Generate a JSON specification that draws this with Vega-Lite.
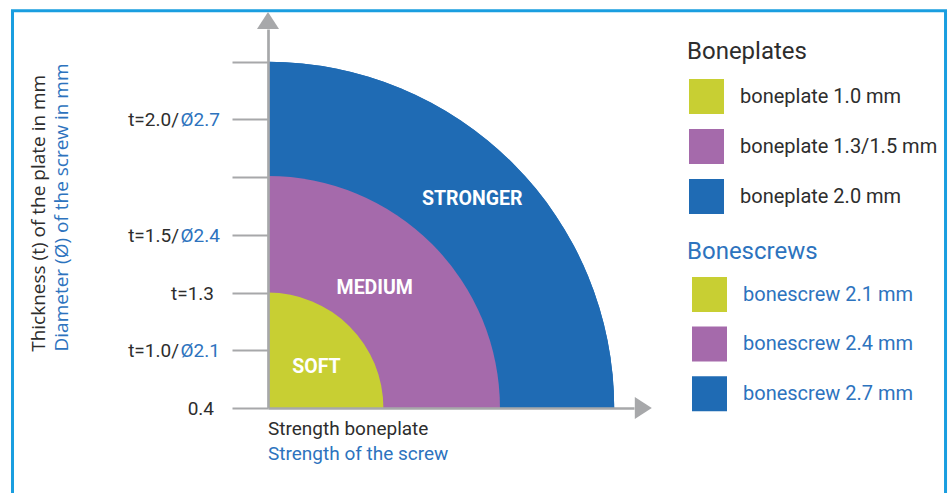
{
  "$schema": "https://vega.github.io/schema/vega-lite/v6.json",
  "width": 366,
  "height": 379,
  "autosize": {"type": "none"},
  "padding": {"left": 268, "top": 29, "right": 315, "bottom": 85},
  "background": "white",
  "config": {"view": {"stroke": null}, "font": "Roboto"},
  "datasets": {
    "zones": [
      {"zone": "STRONGER", "r": 6, "plate": "boneplate 2.0 mm", "screw": "bonescrew 2.7 mm", "lx": 3.54, "ly": 3.65},
      {"zone": "MEDIUM", "r": 4.02, "plate": "boneplate 1.3/1.5 mm", "screw": "bonescrew 2.4 mm", "lx": 1.85, "ly": 2.11},
      {"zone": "SOFT", "r": 2, "plate": "boneplate 1.0 mm", "screw": "bonescrew 2.1 mm", "lx": 0.84, "ly": 0.74}
    ],
    "ticks": [
      {"v": 0, "t": "0.4", "d": ""},
      {"v": 1, "t": "t=1.0/", "d": "Ø2.1"},
      {"v": 2, "t": "t=1.3", "d": ""},
      {"v": 3, "t": "t=1.5/", "d": "Ø2.4"},
      {"v": 5, "t": "t=2.0/", "d": "Ø2.7"}
    ],
    "one": [{}]
  },
  "layer": [
    {
      "data": {"name": "one"},
      "mark": {"type": "rect", "fill": "transparent", "stroke": "#1a9ee0", "strokeWidth": 3},
      "encoding": {
        "x": {"datum": -4.428, "type": "quantitative", "title": null},
        "x2": {"datum": 11.742},
        "y": {"datum": 6.886, "type": "quantitative", "title": null},
        "y2": {"datum": -1.6}
      }
    },
    {
      "data": {"name": "zones"},
      "mark": {"type": "arc", "theta": 0, "theta2": 1.5708},
      "encoding": {
        "x": {"datum": 0, "type": "quantitative", "title": null,
          "scale": {"domain": [0, 6.343], "nice": false, "zero": false},
          "axis": {"labels": false, "ticks": false, "grid": false, "title": null, "domainColor": "#a7a8aa", "domainWidth": 2.7, "zindex": 1}},
        "y": {"datum": 0, "type": "quantitative", "title": null,
          "scale": {"domain": [0, 6.568], "nice": false, "zero": false},
          "axis": {"values": [0, 1, 2, 3, 4, 5, 6], "labels": false, "ticks": true, "tickSize": 36, "tickColor": "#a7a8aa", "tickWidth": 2, "grid": false, "title": null, "domainColor": "#a7a8aa", "domainWidth": 2.7, "zindex": 1}},
        "radius": {"field": "r", "type": "quantitative", "stack": null, "scale": {"type": "linear", "domain": [0, 6], "range": [0, 346.2], "zero": true, "nice": false}},
        "fill": {"field": "screw", "type": "nominal",
          "scale": {"domain": ["bonescrew 2.1 mm", "bonescrew 2.4 mm", "bonescrew 2.7 mm"], "range": ["#c8cf33", "#a56aab", "#1f6bb4"]},
          "legend": {"title": "Bonescrews", "orient": "none", "legendX": 419, "legendY": 211, "padding": 0,
            "symbolType": "square", "symbolSize": 1225, "symbolStrokeWidth": 0, "symbolOpacity": 1, "symbolOffset": 5,
            "labelOffset": 16, "labelFontSize": 20, "labelFont": "Roboto", "labelColor": "#2d73be", "labelLimit": 300,
            "titleFontSize": 24, "titleFont": "Roboto", "titleFontWeight": "normal", "titleColor": "#2d73be",
            "titlePadding": 13, "rowPadding": 14.6}}
      }
    },
    {
      "data": {"name": "zones"},
      "mark": {"type": "arc", "theta": 0, "theta2": 1.5708},
      "encoding": {
        "x": {"datum": 0, "type": "quantitative", "title": null},
        "y": {"datum": 0, "type": "quantitative", "title": null},
        "radius": {"field": "r", "type": "quantitative", "stack": null, "scale": {"type": "linear", "domain": [0, 6], "range": [0, 346.2], "zero": true, "nice": false}},
        "fill": {"field": "plate", "type": "nominal",
          "scale": {"domain": ["boneplate 1.0 mm", "boneplate 1.3/1.5 mm", "boneplate 2.0 mm"], "range": ["#c8cf33", "#a56aab", "#1f6bb4"]},
          "legend": {"title": "Boneplates", "orient": "none", "legendX": 419, "legendY": 11, "padding": 0,
            "symbolType": "square", "symbolSize": 1225, "symbolStrokeWidth": 0, "symbolOpacity": 1, "symbolOffset": 2,
            "labelOffset": 16, "labelFontSize": 20, "labelFont": "Roboto", "labelColor": "#2d2d2d", "labelLimit": 300,
            "titleFontSize": 24, "titleFont": "Roboto", "titleFontWeight": "normal", "titleColor": "#2d2d2d",
            "titlePadding": 15, "rowPadding": 15}}
      }
    },
    {
      "data": {"name": "zones"},
      "mark": {"type": "text", "fill": "white", "font": "Roboto", "fontWeight": "bold", "fontSize": 19.5, "align": "center", "baseline": "middle", "dy": 2},
      "encoding": {
        "x": {"field": "lx", "type": "quantitative", "title": null},
        "y": {"field": "ly", "type": "quantitative", "title": null},
        "text": {"field": "zone"}
      }
    },
    {
      "data": {"name": "ticks"},
      "transform": [{"filter": "datum.d != ''"}],
      "mark": {"type": "text", "fill": "#2d2d2d", "font": "Roboto", "fontSize": 19, "align": "right", "baseline": "middle", "dx": -89, "dy": 1},
      "encoding": {
        "x": {"datum": 0, "type": "quantitative", "title": null},
        "y": {"field": "v", "type": "quantitative", "title": null},
        "text": {"field": "t"}
      }
    },
    {
      "data": {"name": "ticks"},
      "transform": [{"filter": "datum.d == ''"}],
      "mark": {"type": "text", "fill": "#2d2d2d", "font": "Roboto", "fontSize": 19, "align": "right", "baseline": "middle", "dx": -54, "dy": 1},
      "encoding": {
        "x": {"datum": 0, "type": "quantitative", "title": null},
        "y": {"field": "v", "type": "quantitative", "title": null},
        "text": {"field": "t"}
      }
    },
    {
      "data": {"name": "ticks"},
      "transform": [{"filter": "datum.d != ''"}],
      "mark": {"type": "text", "fill": "#2d73be", "font": "Roboto", "fontSize": 19, "align": "right", "baseline": "middle", "dx": -48, "dy": 1},
      "encoding": {
        "x": {"datum": 0, "type": "quantitative", "title": null},
        "y": {"field": "v", "type": "quantitative", "title": null},
        "text": {"field": "d"}
      }
    },
    {
      "data": {"name": "one"},
      "mark": {"type": "point", "shape": "M-1,0.773L1,0.773L0,-0.773Z", "size": 484, "filled": true, "fill": "#a7a8aa", "strokeWidth": 0, "opacity": 1},
      "encoding": {
        "x": {"datum": 0, "type": "quantitative", "title": null},
        "y": {"datum": 6.716, "type": "quantitative", "title": null}
      }
    },
    {
      "data": {"name": "one"},
      "mark": {"type": "point", "shape": "M-0.773,-1L0.773,0L-0.773,1Z", "size": 484, "filled": true, "fill": "#a7a8aa", "strokeWidth": 0, "opacity": 1},
      "encoding": {
        "x": {"datum": 6.504, "type": "quantitative", "title": null},
        "y": {"datum": 0, "type": "quantitative", "title": null}
      }
    },
    {
      "data": {"name": "one"},
      "mark": {"type": "text", "text": "Thickness (t) of the plate in mm", "fill": "#2d2d2d", "font": "Open Sans", "fontSize": 19, "angle": 270, "align": "center", "baseline": "alphabetic"},
      "encoding": {
        "x": {"datum": -3.865, "type": "quantitative", "title": null},
        "y": {"datum": 3.374, "type": "quantitative", "title": null}
      }
    },
    {
      "data": {"name": "one"},
      "mark": {"type": "text", "text": "Diameter (Ø) of the screw in mm", "fill": "#2d73be", "font": "Open Sans", "fontSize": 19, "angle": 270, "align": "center", "baseline": "alphabetic"},
      "encoding": {
        "x": {"datum": -3.466, "type": "quantitative", "title": null},
        "y": {"datum": 3.475, "type": "quantitative", "title": null}
      }
    },
    {
      "data": {"name": "one"},
      "mark": {"type": "text", "text": "Strength boneplate", "fill": "#2d2d2d", "font": "Roboto", "fontSize": 19, "align": "left", "baseline": "alphabetic"},
      "encoding": {
        "x": {"datum": 0, "type": "quantitative", "title": null},
        "y": {"datum": -0.471, "type": "quantitative", "title": null}
      }
    },
    {
      "data": {"name": "one"},
      "mark": {"type": "text", "text": "Strength of the screw", "fill": "#2d73be", "font": "Roboto", "fontSize": 19, "align": "left", "baseline": "alphabetic"},
      "encoding": {
        "x": {"datum": 0, "type": "quantitative", "title": null},
        "y": {"datum": -0.905, "type": "quantitative", "title": null}
      }
    }
  ],
  "resolve": {"scale": {"fill": "independent"}, "legend": {"fill": "independent"}}
}
